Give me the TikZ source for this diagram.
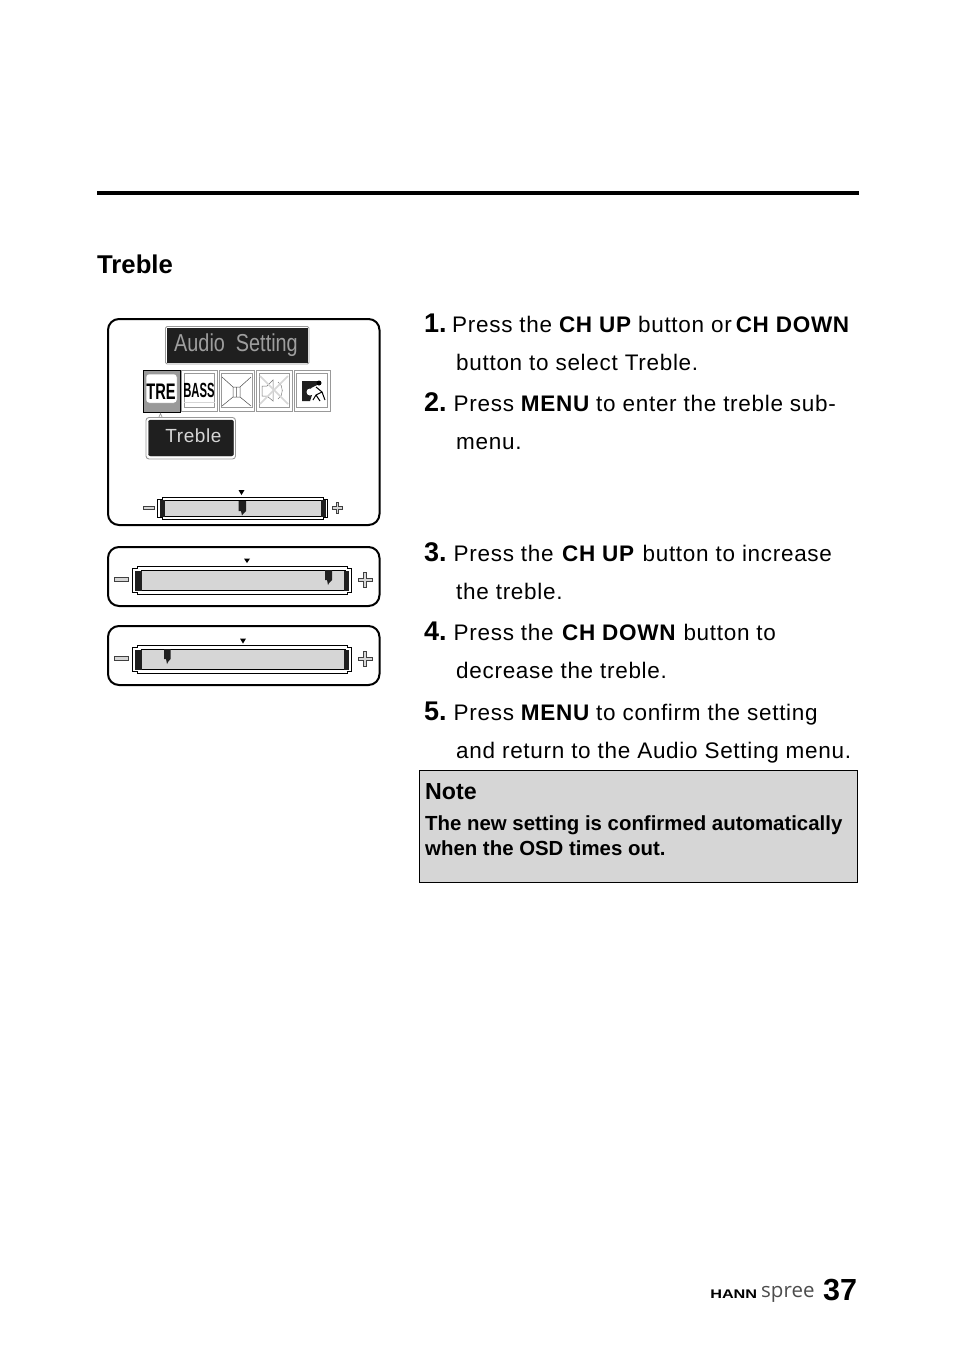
\documentclass[tikz,border=0pt]{standalone}
\usepackage{fontspec}
\setmainfont[LetterSpace=3.1]{Liberation Sans}
\newfontfamily\plainsans{Liberation Sans}
\newfontfamily\logofont{Open Sans}
\usetikzlibrary{positioning}
\newcommand{\btn}[1]{{\fontsize{22.5}{26}\selectfont\bfseries #1}}
\definecolor{osdgray}{gray}{0.84}
\definecolor{osdblack}{gray}{0.12}
\definecolor{osdline}{gray}{0.6}
\definecolor{osdtext}{gray}{0.62}
\tikzstyle{step text} = [anchor=base west, inner sep=0pt, font=\fontsize{22.5}{26}\selectfont]
\tikzstyle{num text} = [anchor=base west, inner sep=0pt, font=\fontsize{27}{30}\selectfont\bfseries\plainsans]
\tikzstyle{note text} = [anchor=base west, inner sep=0pt, font=\fontsize{20.4}{24}\selectfont\bfseries\plainsans]
\tikzstyle{panel} = [draw=black, line width=2pt, rounded corners=11pt]
\tikzstyle{thin frame} = [draw=osdline, line width=0.9pt, rounded corners=1.5pt]
\tikzstyle{bar frame} = [draw=black, line width=0.8pt, fill=white]
\tikzstyle{bar fill} = [draw=black, line width=0.8pt, fill=osdgray]
\tikzstyle{sign} = [draw=black!75, line width=0.8pt, fill=osdgray]
\tikzstyle{icon} = [draw=osdline, line width=0.9pt, fill=white]
\begin{document}
\begin{tikzpicture}[x=1pt, y=-1pt]
\useasboundingbox (0,0) rectangle (954,1352);
\fill[black] (97,191) rectangle (859,195);
\node (title) [anchor=base west, inner sep=0pt, font=\fontsize{25.7}{30}\selectfont\bfseries\plainsans] at (97,273) {Treble};
% steps
\node (n1) [num text] at (424,332) {1.};
\node (s1) [step text] at (452,332) {Press the \btn{CH UP} button or\kern-3pt\ \btn{CH DOWN}};
\node (s1b) [step text] at (456,370) {button to select Treble.};
\node (n2) [num text] at (424,411) {2.};
\node (s2) [step text] at (453.5,411) {Press \btn{MENU} to enter the treble sub-};
\node (s2b) [step text] at (456,449) {menu.};
\node (n3) [num text] at (424,561) {3.};
\node (s3) [step text] at (453.5,561) {Press the \kern1.5pt\btn{CH UP} \kern1.5pt button to increase};
\node (s3b) [step text] at (456,599) {the treble.};
\node (n4) [num text] at (424,640) {4.};
\node (s4) [step text] at (453.5,640) {Press the \kern1.5pt\btn{CH DOWN} \kern1pt button to};
\node (s4b) [step text] at (456,678) {decrease the treble.};
\node (n5) [num text] at (424,720) {5.};
\node (s5) [step text] at (453.5,720) {Press \btn{MENU} to confirm the setting};
\node (s5b) [step text] at (456,758) {and return to the Audio Setting menu.};
% note
\filldraw[fill=osdgray, draw=black, line width=1pt] (419.5,770.5) rectangle (857.5,882.5);
\node (notehead) [anchor=base west, inner sep=0pt, font=\fontsize{23.2}{28}\selectfont\bfseries\plainsans] at (425,799) {Note};
\node (note1) [note text] at (425,830) {The new setting is confirmed automatically};
\node (note2) [note text] at (425,855) {when the OSD times out.};
% osd menu
\draw[panel] (108,319) rectangle (379.5,525);
\draw[thin frame] (165.5,326.5) rectangle (309,364);
\fill[osdblack] (167,328) rectangle (307.5,362.5);
\node (audio) [inner sep=0pt, text=osdtext, xscale=0.81, transform shape, font=\fontsize{24.5}{30}\selectfont\plainsans] at (236,345) {Audio\ \ Setting};
% icons
\draw[draw=black, line width=1pt, fill=osdline] (143.5,370.5) rectangle (180,412);
\draw[draw=osdline, fill=white, line width=0.5pt, rounded corners=3pt] (146,374) rectangle (177,403);
\node (tre) [inner sep=0pt, text=black, xscale=0.65, transform shape, font=\fontsize{22.5}{30}\selectfont\bfseries\plainsans] at (161,392) {TRE};
\draw[icon] (181.5,370.5) rectangle (217,411.5);
\draw[icon] (184,373) rectangle (214.5,407);
\draw[osdgray] (184,402) -- (214.5,402);
\node (bass) [inner sep=0pt, text=black, xscale=0.55, transform shape, font=\fontsize{20.5}{26}\selectfont\bfseries\plainsans] at (199,390) {BASS};
\draw[icon] (219,370.5) rectangle (254.5,411.5);
\draw[icon] (221.5,373) rectangle (252,407);
\draw[black!70, line width=0.5pt] (222,377) -- (233,387) -- (233,397) -- (222,406) (251,377) -- (240,387) -- (240,397) -- (251,406) (233,387) -- (240,387) (233,397) -- (240,397) (236.5,387) -- (236.5,397);
\draw[icon] (256.5,370.5) rectangle (292,411.5);
\draw[icon] (259,373) rectangle (289.5,407);
\draw[black!55, line width=0.5pt] (262,386) -- (267,386) -- (273,380) -- (273,401) -- (267,396) -- (262,396) -- cycle;
\draw[black!50, line width=0.5pt] (278,382) to [out=-30, in=30] (278,399);
\draw[osdgray, line width=1.5pt] (260,404) -- (288,376) (260,376) -- (288,404);
\draw[icon] (294,370.5) rectangle (330.5,411.5);
\draw[icon] (296.5,373) rectangle (327.5,407);
\fill[osdblack] (302,381) -- (317,381) -- (317,385) -- (311,388) -- (312,395) -- (310,401) -- (302,401) -- cycle;
\fill[white] (310,392) circle (3.5);
\fill[black] (319,383) circle (2.5);
\draw[black, line width=1pt] (316,387) -- (322,392) -- (316,395) -- (313,400) (322,392) -- (325,400) (316,395) -- (320,401);
% tooltip
\draw[thin frame, rounded corners=3pt] (146,417.5) rectangle (235.5,459);
\draw[osdline, line width=0.7pt] (159,417) -- (160.5,413.5) -- (162,417);
\filldraw[fill=osdblack, draw=osdblack, rounded corners=2pt] (148.5,420) rectangle (233.5,456);
\node (treble) [inner sep=0pt, text=osdgray, font=\fontsize{19}{22}\selectfont] at (193.5,436) {Treble};
% slider one
\fill[black] (238.5,490) -- (244.5,490) -- (241.5,495) -- cycle;
\draw[bar frame] (162,497.5) -- (323,497.5) -- (323,499.5) -- (327,499.5) -- (327,517) -- (323,517) -- (323,519) -- (162,519) -- (162,517) -- (157.5,517) -- (157.5,499.5) -- (162,499.5) -- cycle;
\draw[bar fill] (164,500.5) rectangle (322,516);
\fill[osdblack] (159.5,500) rectangle (165,516.5);
\fill[osdblack] (321,500) rectangle (325.5,516.5);
\fill[osdblack] (238.5,501) rectangle (246,511) -- (243,514) -- (242,515.5) -- (241,511) -- cycle;
\draw[sign] (143.5,506.5) rectangle (154.5,509.5);
\draw[sign] (336,502.5) -- (338.5,502.5) -- (338.5,506.5) -- (342.5,506.5) -- (342.5,509) -- (338.5,509) -- (338.5,513.5) -- (336,513.5) -- (336,509) -- (332,509) -- (332,506.5) -- (336,506.5) -- cycle;
% slider two
\draw[panel] (108,547) rectangle (379.5,606);
\fill[black] (244,558.5) -- (250,558.5) -- (247,563) -- cycle;
\draw[bar frame] (137,566.5) -- (347.5,566.5) -- (347.5,568.5) -- (351.5,568.5) -- (351.5,592) -- (347.5,592) -- (347.5,594) -- (137,594) -- (137,592) -- (132.5,592) -- (132.5,568.5) -- (137,568.5) -- cycle;
\draw[bar fill] (141,570.5) rectangle (345,590.5);
\fill[osdblack] (135,570.5) rectangle (142,590.5);
\fill[osdblack] (344,570.5) rectangle (349,590.5);
\fill[osdblack] (325,570) rectangle (332,580) -- (329,583) -- (328,585) -- (327,580) -- cycle;
\draw[sign] (114.5,577.5) rectangle (128.5,581.5);
\draw[sign] (363.5,572.5) -- (366.5,572.5) -- (366.5,578) -- (372.5,578) -- (372.5,581.5) -- (366.5,581.5) -- (366.5,587) -- (363.5,587) -- (363.5,581.5) -- (358,581.5) -- (358,578) -- (363.5,578) -- cycle;
% slider three
\draw[panel] (108,626) rectangle (379.5,685);
\fill[black] (240,638.5) -- (246,638.5) -- (243,643.5) -- cycle;
\draw[bar frame] (137,645.5) -- (347.5,645.5) -- (347.5,647.5) -- (351.5,647.5) -- (351.5,671) -- (347.5,671) -- (347.5,673) -- (137,673) -- (137,671) -- (132.5,671) -- (132.5,647.5) -- (137,647.5) -- cycle;
\draw[bar fill] (141,649.5) rectangle (345,669.5);
\fill[osdblack] (135,649.5) rectangle (142,669.5);
\fill[osdblack] (344,649.5) rectangle (349,669.5);
\fill[osdblack] (164,649) rectangle (170.5,659) -- (168,662) -- (167,664) -- (166,659) -- cycle;
\draw[sign] (114.5,656.5) rectangle (128.5,660.5);
\draw[sign] (363.5,651.5) -- (366.5,651.5) -- (366.5,657) -- (372.5,657) -- (372.5,660.5) -- (366.5,660.5) -- (366.5,666) -- (363.5,666) -- (363.5,660.5) -- (358,660.5) -- (358,657) -- (363.5,657) -- cycle;
% footer
\node (hann) [anchor=base west, inner sep=0pt, xscale=1.3, transform shape, font=\fontsize{12.5}{14}\selectfont\bfseries\plainsans] at (710,1298) {HANN};
\node (spree) [anchor=base west, inner sep=0pt, font=\fontsize{20.5}{25}\selectfont\logofont, text=black!70] at (761,1297) {spree};
\node (page) [anchor=base west, inner sep=0pt, font=\fontsize{30.5}{38}\selectfont\bfseries\plainsans] at (823,1300) {37};
\end{tikzpicture}
\end{document}
